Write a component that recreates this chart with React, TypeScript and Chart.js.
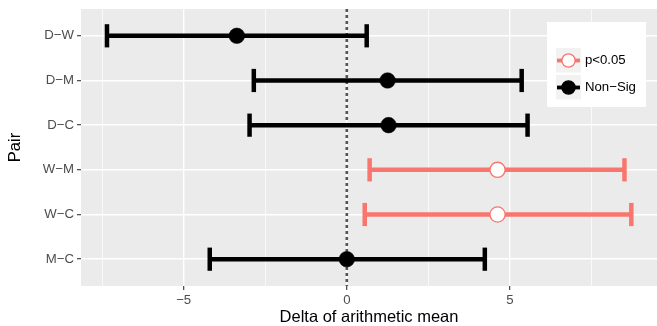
import React, { useEffect, useRef } from "react";
import { Chart, registerables } from "chart.js";

Chart.register(...registerables);

// ---- data (top to bottom) ----
const pairs = ["D−W", "D−M", "D−C", "W−M", "W−C", "M−C"];
const estimates = [-3.37, 1.25, 1.28, 4.62, 4.62, 0.0];
const lowers = [-7.35, -2.85, -2.98, 0.7, 0.55, -4.2];
const uppers = [0.61, 5.36, 5.54, 8.51, 8.72, 4.23];
const significant = [false, false, false, true, true, false];
const legendLabels = ["p<0.05", "Non−Sig"];
const xTicks = [-7.5, -5, -2.5, 0, 2.5, 5, 7.5];
const xMajorLabels: Record<string, string> = { "-5": "−5", "0": "0", "5": "5" };

const SIG = "#F8766D";
const NONSIG = "#000000";
const FONT = "'Liberation Sans', Arial, Helvetica, sans-serif";

export default function App() {
  const ref = useRef<HTMLCanvasElement | null>(null);
  useEffect(() => {
    document.body.style.margin = "0";
    const n = pairs.length;
    const yOf = (i: number) => n - i; // top row highest
    const errDatasets = pairs.map((p, i) => ({
      label: p,
      data: [
        { x: lowers[i], y: yOf(i) },
        { x: uppers[i], y: yOf(i) },
      ],
      showLine: true,
      borderColor: significant[i] ? SIG : NONSIG,
      backgroundColor: significant[i] ? SIG : NONSIG,
      borderWidth: 4.5,
      borderCapStyle: "butt" as const,
      pointStyle: "line" as const,
      rotation: 90,
      pointRadius: 11.6,
      pointBorderWidth: 4.5,
      pointBorderColor: significant[i] ? SIG : NONSIG,
    }));
    const sigPts = pairs
      .map((p, i) => ({ i }))
      .filter((o) => significant[o.i])
      .map((o) => ({ x: estimates[o.i], y: yOf(o.i) }));
    const nonPts = pairs
      .map((p, i) => ({ i }))
      .filter((o) => !significant[o.i])
      .map((o) => ({ x: estimates[o.i], y: yOf(o.i) }));

    const bgPlugin = {
      id: "panelBg",
      beforeDraw(chart: any) {
        const { ctx, chartArea } = chart;
        ctx.save();
        ctx.fillStyle = "#EBEBEB";
        ctx.fillRect(chartArea.left, chartArea.top, chartArea.right - chartArea.left, chartArea.bottom - chartArea.top);
        ctx.restore();
      },
      beforeDatasetsDraw(chart: any) {
        const { ctx, chartArea, scales } = chart;
        const x0 = scales.x.getPixelForValue(0);
        ctx.save();
        ctx.strokeStyle = "#555555";
        ctx.lineWidth = 2.6;
        ctx.setLineDash([3, 3]);
        ctx.beginPath();
        ctx.moveTo(x0, chartArea.top);
        ctx.lineTo(x0, chartArea.bottom);
        ctx.stroke();
        ctx.restore();
      },
      afterDraw(chart: any) {
        const { ctx } = chart;
        ctx.save();
        ctx.fillStyle = "#FFFFFF";
        ctx.fillRect(547, 22, 99, 85);
        const keys = [
          { y: 48, color: SIG, fill: "#FFFFFF" },
          { y: 75, color: NONSIG, fill: NONSIG },
        ];
        keys.forEach((k, j) => {
          ctx.fillStyle = "#F2F2F2";
          ctx.fillRect(556, k.y, 25, 24.5);
          const cx = 568.5;
          const cy = k.y + 12.5;
          ctx.strokeStyle = k.color;
          ctx.lineWidth = 3.8;
          ctx.beginPath();
          ctx.moveTo(557, cy);
          ctx.lineTo(580, cy);
          ctx.stroke();
          ctx.beginPath();
          ctx.arc(cx, cy, 6.6, 0, Math.PI * 2);
          ctx.fillStyle = k.fill;
          ctx.fill();
          ctx.lineWidth = 1.3;
          ctx.stroke();
          ctx.fillStyle = "#000000";
          ctx.font = `13.2px ${FONT}`;
          ctx.textBaseline = "middle";
          ctx.textAlign = "left";
          ctx.fillText(legendLabels[j], 585, cy);
        });
        ctx.restore();
      },
    };

    const chart = new Chart(ref.current as HTMLCanvasElement, {
      type: "scatter",
      data: {
        datasets: [
          {
            label: legendLabels[0],
            data: sigPts,
            pointRadius: 7.6,
            pointBackgroundColor: "#FFFFFF",
            pointBorderColor: SIG,
            pointBorderWidth: 1.3,
          },
          {
            label: legendLabels[1],
            data: nonPts,
            pointRadius: 7.8,
            pointBackgroundColor: NONSIG,
            pointBorderColor: NONSIG,
            pointBorderWidth: 0.5,
          },
          ...errDatasets,
        ] as any,
      },
      options: {
        animation: false,
        responsive: false,
        maintainAspectRatio: false,
        events: [],
        layout: { autoPadding: false, padding: { top: 9, right: 0, left: 0, bottom: 0 } },
        plugins: { legend: { display: false }, tooltip: { enabled: false } },
        scales: {
          x: {
            type: "linear",
            min: -8.146,
            max: 9.507,
            afterBuildTicks: (s: any) => {
              s.ticks = xTicks.map((v) => ({ value: v }));
            },
            afterFit: (s: any) => {
              s.height = 40;
              s.paddingLeft = 0;
              s.paddingRight = 0;
            },
            border: { display: false },
            grid: {
              color: "#FFFFFF",
              lineWidth: (c: any) => (xMajorLabels[String(c.tick?.value)] !== undefined ? 1.4 : 0.7),
              tickColor: (c: any) =>
                xMajorLabels[String(c.tick?.value)] !== undefined ? "#333333" : "rgba(0,0,0,0)",
              tickLength: 4,
              tickWidth: 1.1,
            },
            ticks: {
              autoSkip: false,
              maxRotation: 0,
              padding: 2,
              color: "#4D4D4D",
              font: { family: FONT, size: 13.2 },
              callback: (v: any) => xMajorLabels[String(v)] ?? "",
            },
            title: {
              display: true,
              text: "Delta of arithmetic mean",
              color: "#000000",
              font: { family: FONT, size: 16.5, lineHeight: 1 },
              padding: { top: 0, bottom: 0 },
            },
          },
          y: {
            type: "linear",
            min: 0.4,
            max: 6.6,
            afterBuildTicks: (s: any) => {
              s.ticks = pairs.map((_, i) => ({ value: yOf(i) }));
            },
            afterFit: (s: any) => {
              s.width = 81;
              s.paddingTop = 0;
              s.paddingBottom = 0;
            },
            border: { display: false },
            grid: {
              color: "#FFFFFF",
              lineWidth: 1.4,
              tickColor: "#333333",
              tickLength: 4,
              tickWidth: 1.1,
            },
            ticks: {
              autoSkip: false,
              padding: 3,
              color: "#4D4D4D",
              font: { family: FONT, size: 13.2 },
              callback: (v: any) => pairs[n - Number(v)] ?? "",
            },
            title: {
              display: true,
              text: "Pair",
              color: "#000000",
              font: { family: FONT, size: 16.5, lineHeight: 1 },
              padding: { top: 6.75, bottom: 0 },
            },
          },
        },
      },
      plugins: [bgPlugin],
    });
    return () => chart.destroy();
  }, []);
  return (
    <div style={{ width: 657, height: 326 }}>
      <canvas ref={ref} width={657} height={326} style={{ display: "block", width: 657, height: 326 }} />
    </div>
  );
}
